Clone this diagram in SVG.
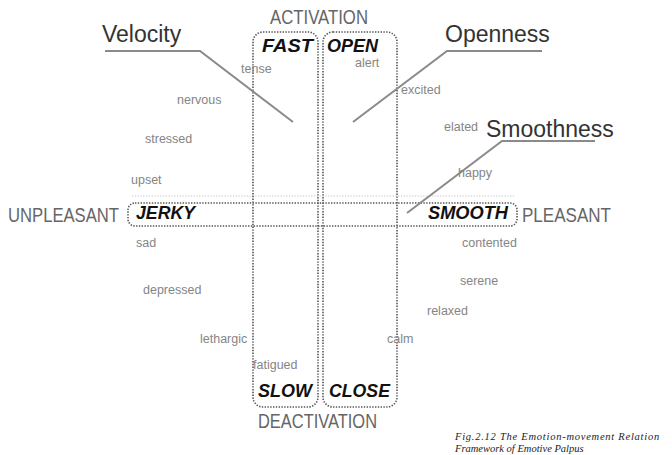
<svg xmlns="http://www.w3.org/2000/svg" width="672" height="455" viewBox="0 0 672 455">
<style>
.box{fill:none;stroke:#555;stroke-width:1.6;stroke-dasharray:1.4 1.4}
.ghost{fill:none;stroke:#ddd;stroke-width:1.4;stroke-dasharray:1.4 1.4}
.lead{fill:none;stroke:#8a8a8a;stroke-width:2}
.emo{font-family:"Liberation Sans",Arial,sans-serif;font-size:12.5px;fill:#858585}
.big{font-family:"Liberation Sans",Arial,sans-serif;font-size:23px;fill:#333}
.axis{font-family:"Liberation Sans",Arial,sans-serif;font-size:16.5px;fill:#666}
.mv{font-family:"Liberation Sans",Arial,sans-serif;font-size:18px;font-weight:bold;font-style:italic;fill:#111}
.cap{font-family:"Liberation Serif","Times New Roman",serif;font-size:10.5px;font-style:italic;fill:#222}
</style>
<rect width="672" height="455" fill="#fff"/>
<g id="frames">
<line class="ghost" x1="132" y1="196" x2="515" y2="196"/>
<rect id="fast-slow" class="box" x="253" y="32" width="65" height="375" rx="10"/>
<rect id="open-close" class="box" x="323" y="32" width="74" height="375" rx="10"/>
<rect id="jerky-smooth" class="box" x="128" y="203" width="389" height="23" rx="7"/>
</g>
<g id="connectors">
<polyline class="lead" points="105,51 200,51 293,122"/>
<polyline class="lead" points="542,51 447,51 353,122"/>
<polyline class="lead" points="595,141 502,141 407,213"/>
</g>
<g id="axes">
<text id="activation" class="axis" transform="translate(270,24) scale(1,1.25)" textLength="98" lengthAdjust="spacingAndGlyphs">ACTIVATION</text>
<text id="deactivation" class="axis" transform="translate(258,428) scale(1,1.25)" textLength="119" lengthAdjust="spacingAndGlyphs">DEACTIVATION</text>
<text id="unpleasant" class="axis" transform="translate(8,222) scale(1,1.25)" textLength="111" lengthAdjust="spacingAndGlyphs">UNPLEASANT</text>
<text id="pleasant" class="axis" transform="translate(522,222) scale(1,1.25)" textLength="89" lengthAdjust="spacingAndGlyphs">PLEASANT</text>
</g>
<g id="movements">
<text id="fast" class="mv" x="262" y="52" textLength="51" lengthAdjust="spacingAndGlyphs">FAST</text>
<text id="open" class="mv" x="327" y="52" textLength="51" lengthAdjust="spacingAndGlyphs">OPEN</text>
<text id="slow" class="mv" x="258" y="397" textLength="54" lengthAdjust="spacingAndGlyphs">SLOW</text>
<text id="close" class="mv" x="329" y="397" textLength="61" lengthAdjust="spacingAndGlyphs">CLOSE</text>
<text id="jerky" class="mv" x="136" y="219" textLength="59" lengthAdjust="spacingAndGlyphs">JERKY</text>
<text id="smooth" class="mv" x="428" y="219" textLength="80" lengthAdjust="spacingAndGlyphs">SMOOTH</text>
</g>
<g id="qualities">
<text id="velocity" class="big" x="102" y="42">Velocity</text>
<text id="openness" class="big" x="445" y="42">Openness</text>
<text id="smoothness" class="big" x="486" y="137">Smoothness</text>
</g>
<g id="emotions">
<text class="emo" x="241" y="73">tense</text>
<text class="emo" x="355" y="67">alert</text>
<text class="emo" x="177" y="104">nervous</text>
<text class="emo" x="401" y="94">excited</text>
<text class="emo" x="145" y="143">stressed</text>
<text class="emo" x="444" y="131">elated</text>
<text class="emo" x="131" y="184">upset</text>
<text class="emo" x="458" y="177">happy</text>
<text class="emo" x="136" y="247">sad</text>
<text class="emo" x="462" y="247">contented</text>
<text class="emo" x="143" y="294">depressed</text>
<text class="emo" x="460" y="285">serene</text>
<text class="emo" x="427" y="315">relaxed</text>
<text class="emo" x="200" y="343">lethargic</text>
<text class="emo" x="387" y="343">calm</text>
<text class="emo" x="253" y="369">fatigued</text>
</g>
<g id="caption">
<text class="cap" x="455" y="440" letter-spacing="0.75">Fig.2.12 The Emotion-movement Relation</text>
<text class="cap" x="455" y="452">Framework of  Emotive Palpus</text>
</g>
</svg>
